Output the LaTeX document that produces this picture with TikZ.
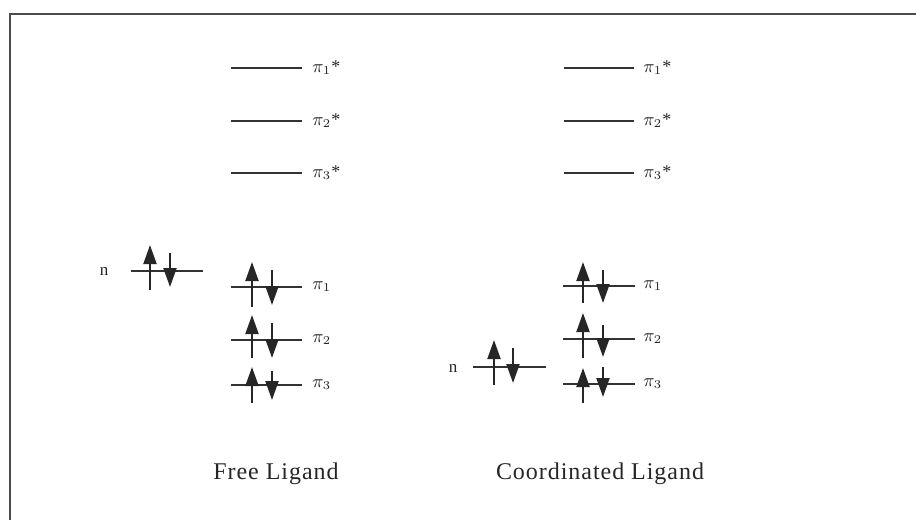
\documentclass[tikz,border=0pt]{standalone}
\usepackage{fontspec}
\setmainfont{Liberation Serif}
\usetikzlibrary{arrows.meta}
\begin{document}
\begin{tikzpicture}[x=0.5pt,y=-0.5pt,
  frame/.style={line width=1pt,draw=black!70},
  level/.style={line width=0.9pt,draw=black!80},
  spin/.style={line width=1pt,draw=black!85,-{Triangle[width=6.5pt,length=9.5pt]}},
  lbl/.style={anchor=west,inner sep=0pt,font=\fontsize{9}{10}\selectfont,text=black!85},
  nlbl/.style={inner sep=0pt,font=\fontsize{8.5}{10}\selectfont,text=black!85},
  captxt/.style={inner sep=0pt,font=\fontsize{12}{14}\selectfont\addfontfeature{LetterSpace=4},text=black!85}]
\useasboundingbox (0,0) rectangle (916,520);
\draw[frame] (10,520) -- (10,14) -- (916,14);
% ---------- Free ligand ----------
\foreach \yy/\k in {68/1,121/2,173/3}{
  \draw[level] (231,\yy) -- (302,\yy) coordinate (fs\k);
  \node[lbl] (fsl\k) at (312,\yy) {$\pi_{\k}$*};
}
\foreach \yy/\k in {287/1,340/2,385/3}{
  \draw[level] (231,\yy) -- (302,\yy) coordinate (fo\k);
  \node[lbl] (fol\k) at (312,\yy) {$\pi_{\k}$};
}
\coordinate (fu1a) at (252,307); \coordinate (fu1b) at (252,262);
\coordinate (fd1a) at (272,270); \coordinate (fd1b) at (272,305);
\coordinate (fu2a) at (252,358); \coordinate (fu2b) at (252,315);
\coordinate (fd2a) at (272,323); \coordinate (fd2b) at (272,358);
\coordinate (fu3a) at (252,403); \coordinate (fu3b) at (252,367);
\coordinate (fd3a) at (272,371); \coordinate (fd3b) at (272,400);
\foreach \k in {1,2,3}{
  \draw[spin] (fu\k a) -- (fu\k b);
  \draw[spin] (fd\k a) -- (fd\k b);
}
% n level (free)
\node[nlbl] (fn) at (104,271) {n};
\draw[level] (131,271) -- (203,271) coordinate (fnl);
\coordinate (fnua) at (150,290); \coordinate (fnub) at (150,245);
\coordinate (fnda) at (170,253); \coordinate (fndb) at (170,287);
\draw[spin] (fnua) -- (fnub);
\draw[spin] (fnda) -- (fndb);
% ---------- Coordinated ligand ----------
\foreach \yy/\k in {68/1,121/2,173/3}{
  \draw[level] (564,\yy) -- (634,\yy) coordinate (cs\k);
  \node[lbl] (csl\k) at (643,\yy) {$\pi_{\k}$*};
}
\foreach \yy/\k in {286/1,339/2,384/3}{
  \draw[level] (563,\yy) -- (635,\yy) coordinate (co\k);
  \node[lbl] (col\k) at (643,\yy) {$\pi_{\k}$};
}
\coordinate (cu1a) at (583,303); \coordinate (cu1b) at (583,262);
\coordinate (cd1a) at (603,270); \coordinate (cd1b) at (603,303);
\coordinate (cu2a) at (583,358); \coordinate (cu2b) at (583,313);
\coordinate (cd2a) at (603,325); \coordinate (cd2b) at (603,357);
\coordinate (cu3a) at (583,403); \coordinate (cu3b) at (583,368);
\coordinate (cd3a) at (603,367); \coordinate (cd3b) at (603,397);
\foreach \k in {1,2,3}{
  \draw[spin] (cu\k a) -- (cu\k b);
  \draw[spin] (cd\k a) -- (cd\k b);
}
% n level (coordinated)
\node[nlbl] (cn) at (453,368) {n};
\draw[level] (473,367) -- (546,367) coordinate (cnl);
\coordinate (cnua) at (494,385); \coordinate (cnub) at (494,340);
\coordinate (cnda) at (513,348); \coordinate (cndb) at (513,383);
\draw[spin] (cnua) -- (cnub);
\draw[spin] (cnda) -- (cndb);
% captions
\node[captxt] (fcap) at (276,474) {Free Ligand};
\node[captxt] (ccap) at (600,474) {Coordinated Ligand};
\end{tikzpicture}
\end{document}
